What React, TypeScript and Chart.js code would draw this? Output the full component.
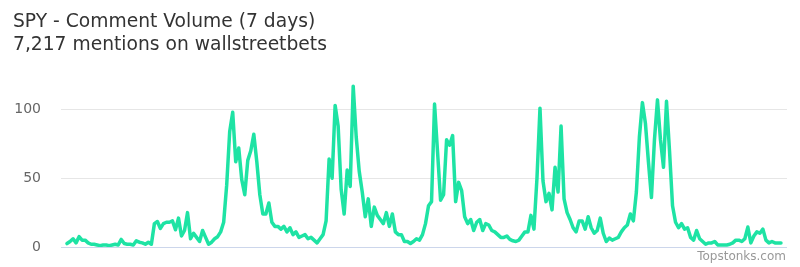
import React, { useEffect, useRef } from "react";
import { Chart, registerables } from "chart.js";

Chart.register(...registerables);

const titleLines = ["SPY - Comment Volume (7 days)", "7,217 mentions on wallstreetbets"];
const creditText = "Topstonks.com";
const yTicks = [0, 50, 100];

// comment counts per interval
const mentions = [
  2.5, 4, 6, 3, 7.5, 5, 5, 3, 2, 2,
  1.5, 1, 1.5, 1.5, 1, 1.5, 2, 1.5, 5.5, 2.5,
  2, 2, 1.5, 4.5, 3.5, 3, 2, 3.5, 2, 17,
  18.5, 13.5, 17, 18, 18, 19, 12.5, 21, 8, 12,
  25, 6, 10, 7, 4, 12, 7, 2, 3.5, 6,
  7.5, 11, 18, 45, 84, 98, 62, 72, 49, 38,
  63, 70, 82, 62, 38, 24, 24, 32, 18, 15,
  15, 13, 15, 11, 14, 9, 11, 7, 8, 9,
  6, 7, 5, 3, 6, 9, 19, 64, 50, 103,
  88, 42, 24, 56, 44, 117, 80, 55, 40, 22,
  35, 15, 29, 23, 20, 17, 25, 15, 24, 11,
  9, 9, 4, 4, 2.5, 4, 6, 5, 9, 17,
  30, 33, 104, 69, 34, 38, 78, 74, 81, 33,
  47, 41, 22, 17, 20, 12, 18, 20, 12, 17,
  16, 12, 11, 9, 7, 7, 8, 5.5, 4.5, 4,
  5, 8, 11, 11, 23, 13, 50, 101, 48, 33,
  39, 27, 58, 40, 88, 35, 25, 20, 14, 11,
  19, 19, 13, 22, 14, 10, 12, 21, 10, 4,
  6.5, 5, 6, 7, 11, 14, 16, 24, 19, 40,
  80, 105, 90, 62, 36, 78, 107, 78, 58, 106,
  70, 30, 18, 14, 17, 13, 14, 7, 5, 12,
  6, 4, 2, 3, 3, 4, 1.5, 1.5, 1.5, 1.5,
  2, 3, 5, 5, 4, 6, 14.5, 3, 8, 11,
  10, 13, 5, 3, 4, 3, 3, 3,
];

const FONT = '"DejaVu Sans", sans-serif';

const creditPlugin = {
  id: "credit",
  afterDraw(chart: any) {
    const ctx = chart.ctx;
    ctx.save();
    ctx.font = `12px ${FONT}`;
    ctx.fillStyle = "#999999";
    ctx.textAlign = "right";
    ctx.textBaseline = "alphabetic";
    ctx.fillText(creditText, 786, 260);
    ctx.restore();
  },
};

export default function App() {
  const ref = useRef<HTMLCanvasElement | null>(null);
  useEffect(() => {
    document.body.style.margin = "0";
    const canvas = ref.current;
    if (!canvas) return;
    const points = mentions.map((v, i) => ({ x: i, y: v }));
    const chart = new Chart(canvas, {
      type: "line",
      data: {
        datasets: [
          {
            data: points,
            borderColor: "#1ee3a4",
            borderWidth: 3.5,
            pointRadius: 0,
            tension: 0,
            fill: false,
            borderJoinStyle: "round",
            borderCapStyle: "round",
          },
        ],
      },
      options: {
        responsive: false,
        animation: false,
        layout: { padding: { left: 13, right: 13, top: 0, bottom: 20 } },
        plugins: {
          legend: { display: false },
          tooltip: { enabled: false },
          title: {
            display: true,
            text: titleLines,
            align: "start",
            color: "#333333",
            font: { family: FONT, size: 18.7, weight: "normal", lineHeight: 1.23 },
            padding: { top: 11, bottom: 25 },
          },
        },
        scales: {
          x: {
            type: "linear",
            display: false,
            min: -2,
            max: mentions.length + 1,
          },
          y: {
            min: 0,
            max: 120,
            border: { display: false },
            grid: {
              drawTicks: false,
              color: (c: any) => (c.tick && c.tick.value === 0 ? "#ccd6eb" : "#e6e6e6"),
              lineWidth: 1,
            },
            afterBuildTicks: (scale: any) => {
              scale.ticks = yTicks.map((v) => ({ value: v }));
            },
            afterFit: (scale: any) => {
              scale.width = 48;
              scale.paddingTop = 0;
              scale.paddingBottom = 0;
            },
            ticks: {
              padding: 20,
              color: "#666666",
              font: { family: FONT, size: 14 },
            },
          },
        },
      },
      plugins: [creditPlugin],
    });
    return () => chart.destroy();
  }, []);
  return (
    <div style={{ width: 800, height: 267 }}>
      <canvas ref={ref} width={800} height={267} />
    </div>
  );
}
